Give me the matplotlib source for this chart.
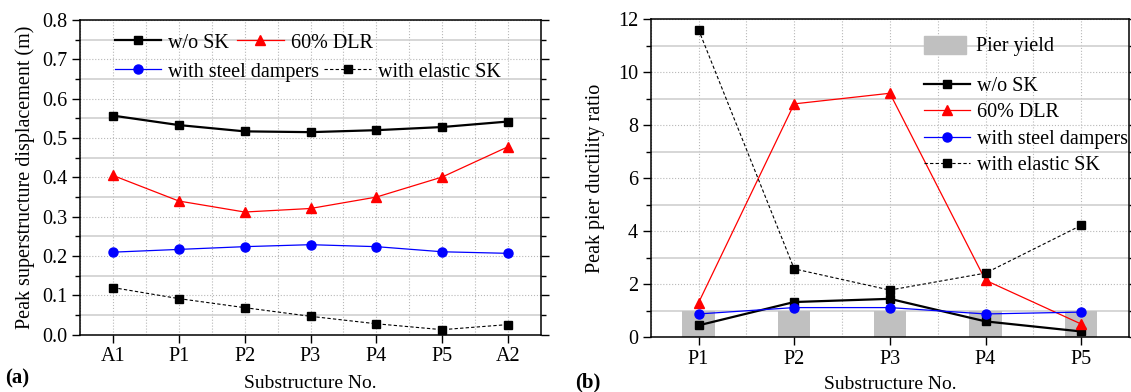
import matplotlib
matplotlib.use("Agg")
import matplotlib.pyplot as plt
from matplotlib.ticker import MultipleLocator
from matplotlib.patches import Patch
from matplotlib.lines import Line2D

plt.rcParams['font.family'] = ['Liberation Serif', 'DejaVu Serif']
plt.rcParams['mathtext.fontset'] = 'stix'

# ---------------- data ----------------
subs_a = ["A1", "P1", "P2", "P3", "P4", "P5", "A2"]
a_wo_sk = [0.557, 0.533, 0.517, 0.515, 0.520, 0.528, 0.542]
a_dlr = [0.405, 0.340, 0.312, 0.321, 0.350, 0.401, 0.478]
a_steel = [0.210, 0.217, 0.224, 0.229, 0.224, 0.211, 0.207]
a_elastic = [0.120, 0.092, 0.069, 0.047, 0.028, 0.013, 0.026]

subs_b = ["P1", "P2", "P3", "P4", "P5"]
b_yield = [1.0, 1.0, 1.0, 1.0, 1.0]
b_wo_sk = [0.45, 1.33, 1.45, 0.60, 0.22]
b_dlr = [1.30, 8.80, 9.20, 2.15, 0.50]
b_steel = [0.88, 1.12, 1.12, 0.88, 0.95]
b_elastic = [11.60, 2.58, 1.78, 2.42, 4.22]

labels = ["w/o SK", "60% DLR", "with steel dampers", "with elastic SK"]

W, H = 1131, 392
fig = plt.figure(figsize=(W / 100, H / 100), dpi=100)

def frac(x0, y0, x1, y1):
    return [x0 / W, 1 - y1 / H, (x1 - x0) / W, (y1 - y0) / H]

ax1 = fig.add_axes(frac(80, 20, 541, 334.8))
ax2 = fig.add_axes(frac(650.7, 19, 1129, 337.3))

styles = [
    dict(color='black', lw=1.6, marker='s', ms=5.5, ls='-'),
    dict(color='red', lw=0.9, marker='^', ms=7.5, ls='-'),
    dict(color='blue', lw=0.9, marker='o', ms=6.5, ls='-'),
    dict(color='black', lw=0.8, marker='s', ms=5.5, ls=(0, (3, 2))),
]

def style_axes(ax):
    ax.grid(which='major', color='#b8b8b8', ls=':', lw=0.8, zorder=0)
    ax.grid(which='minor', axis='x', color='#b8b8b8', ls=':', lw=0.8, zorder=0)
    ax.grid(which='minor', axis='y', color='#d0d0d0', ls='-', lw=1.2, zorder=0)
    ax.set_axisbelow(True)
    ax.tick_params(axis='both', which='major', direction='out', length=5.5,
                   width=1, labelsize=14.5, right=True, top=False)
    ax.tick_params(axis='y', which='minor', direction='out', length=3.5, width=1, right=True)
    ax.tick_params(axis='x', which='minor', length=0)
    for s in ax.spines.values():
        s.set_linewidth(1.1)

# ---------------- panel (a) ----------------
xa = list(range(len(subs_a)))
for vals, st, lab in zip([a_wo_sk, a_dlr, a_steel, a_elastic], styles, labels):
    ax1.plot(xa, vals, label=lab, zorder=3, **st)
ax1.set_xlim(-0.5, 6.5)
ax1.set_ylim(0, 0.8)
ax1.set_xticks(xa)
ax1.set_xticklabels(subs_a)
ax1.xaxis.set_minor_locator(MultipleLocator(0.5))
ax1.yaxis.set_major_locator(MultipleLocator(0.1))
ax1.yaxis.set_minor_locator(MultipleLocator(0.05))
ax1.yaxis.set_major_formatter(matplotlib.ticker.FormatStrFormatter('%.1f'))
style_axes(ax1)
ax1.set_xlabel("Substructure No.", fontsize=14, labelpad=6)
ax1.set_ylabel("Peak superstructure displacement (m)", fontsize=14.5, labelpad=5)

h = [Line2D([], [], **st) for st in styles]
leg_kw = dict(frameon=False, fontsize=14.5, handlelength=2.3, handletextpad=0.35,
              borderpad=0, borderaxespad=0, loc='center left')
l1 = ax1.legend(h[:2], labels[:2], ncol=2, columnspacing=0.4,
                bbox_to_anchor=(115 / W, 1 - 43 / H), bbox_transform=fig.transFigure, **leg_kw)
ax1.add_artist(l1)
l2 = ax1.legend(h[2:], labels[2:], ncol=2, columnspacing=0.25,
                bbox_to_anchor=(115 / W, 1 - 72 / H), bbox_transform=fig.transFigure, **leg_kw)

# ---------------- panel (b) ----------------
xb = list(range(len(subs_b)))
ax2.bar(xb, b_yield, width=0.34, color='#c0c0c0', zorder=1, label="Pier yield")
for vals, st, lab in zip([b_wo_sk, b_dlr, b_steel, b_elastic], styles, labels):
    ax2.plot(xb, vals, label=lab, zorder=3, **st)
ax2.set_xlim(-0.5, 4.5)
ax2.set_ylim(0, 12)
ax2.set_xticks(xb)
ax2.set_xticklabels(subs_b)
ax2.xaxis.set_minor_locator(MultipleLocator(0.5))
ax2.yaxis.set_major_locator(MultipleLocator(2))
ax2.yaxis.set_minor_locator(MultipleLocator(1))
style_axes(ax2)
ax2.set_xlabel("Substructure No.", fontsize=14, labelpad=5)
ax2.set_ylabel("Peak pier ductility ratio", fontsize=14.5, labelpad=9)

lp = ax2.legend([Patch(color='#c0c0c0')], ["Pier yield"], frameon=False, fontsize=14.5,
                handlelength=2.1, handleheight=1.0, handletextpad=0.5, borderpad=0,
                borderaxespad=0, loc='center left',
                bbox_to_anchor=(924 / W, 1 - 46 / H), bbox_transform=fig.transFigure)
ax2.add_artist(lp)
ax2.legend(h, labels, frameon=False, fontsize=14.5, handlelength=2.3, handletextpad=0.35,
           labelspacing=0.36, borderpad=0, borderaxespad=0, loc='upper left',
           bbox_to_anchor=(924 / W, 1 - 77 / H), bbox_transform=fig.transFigure)

fig.text(5 / W, 1 - 378 / H, "(a)", fontsize=15, fontweight='bold', va='center', ha='left')
fig.text(575 / W, 1 - 382 / H, "(b)", fontsize=15, fontweight='bold', va='center', ha='left')

fig.savefig("out.png", dpi=100)
